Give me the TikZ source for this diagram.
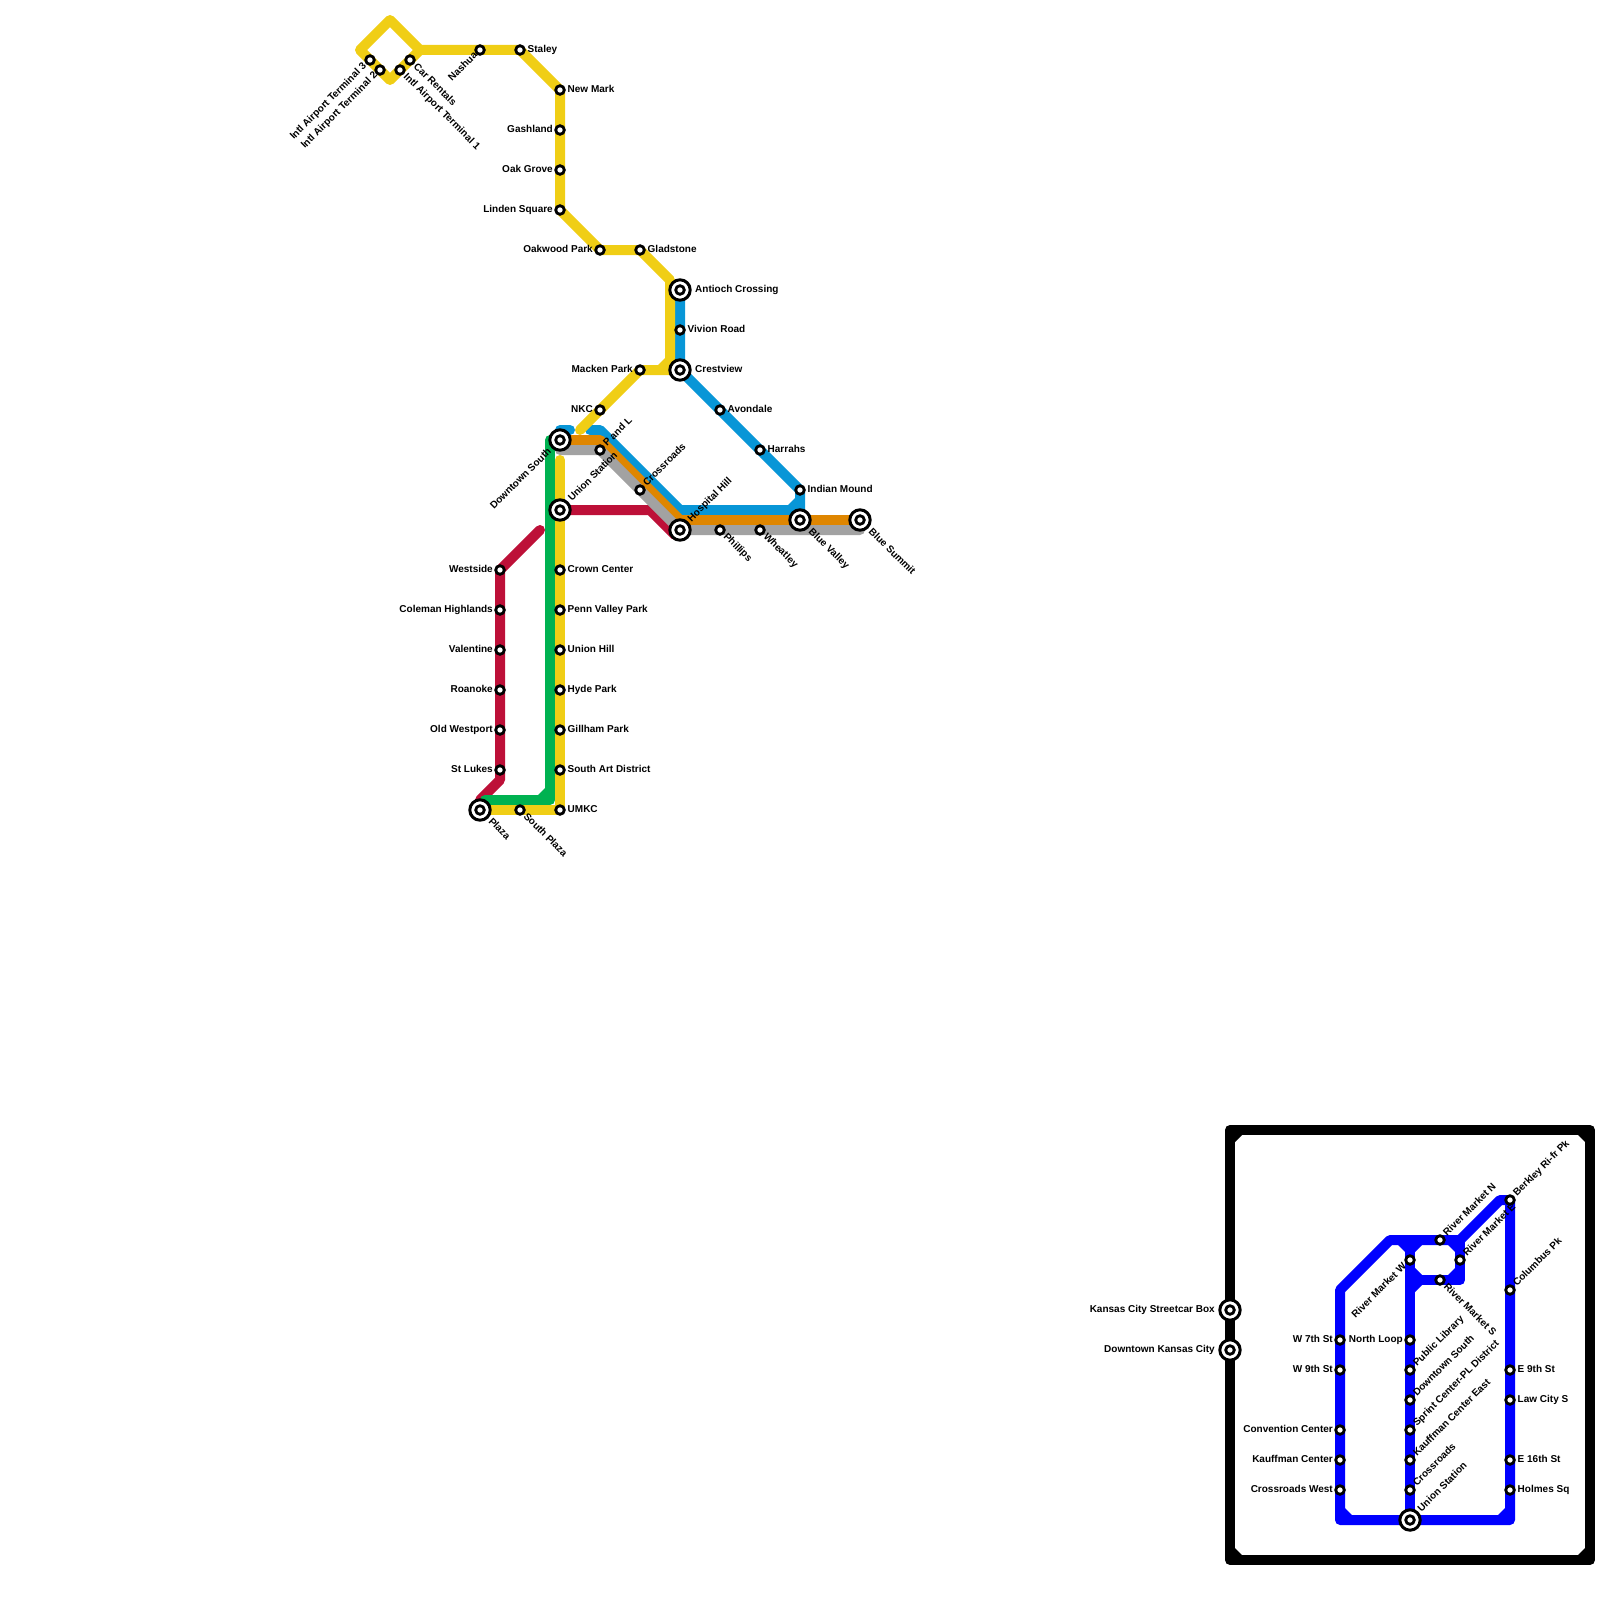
\documentclass[tikz,border=0pt]{standalone}
\usepackage{fontspec}
\setmainfont{Liberation Sans}
\pgfdeclarelayer{lines}
\pgfsetlayers{lines,main}
\definecolor{lyellow}{HTML}{F0CE15}
\definecolor{lgreen}{HTML}{00B251}
\definecolor{lblue}{HTML}{0896D7}
\definecolor{lred}{HTML}{BD1038}
\definecolor{lorange}{HTML}{DF8600}
\definecolor{lgray}{HTML}{A2A2A2}
\definecolor{lstreet}{HTML}{0000FF}
\tikzset{
  stnsmall/.style={circle,draw=black,fill=white,line width=2.8pt,minimum size=8.6pt,inner sep=0pt},
  stnbig/.style={circle,draw=black,fill=white,line width=3pt,minimum size=20.4pt,inner sep=0pt},
  lab/.style={inner sep=0pt,text height=7.4pt,text depth=2pt,font=\fontsize{10}{12}\selectfont\bfseries,text=black},
  lblR/.style={lab,xshift=#1,anchor=west},
  lblL/.style={lab,xshift=-#1,anchor=east},
  lblUR/.style={lab,xshift=#1,yshift=#1,rotate=45,anchor=west},
  lblDR/.style={lab,xshift=#1,yshift=-#1,rotate=-45,anchor=west},
  lblDL/.style={lab,xshift=-#1,yshift=-#1,rotate=45,anchor=east},
  metro/.style={line width=10pt,line cap=round,line join=round},
}
\newcommand{\smallstn}[5]{%
  \node[stnsmall] (#1) at (#2,#3) {};
  \node[#4] (#1l) at (#1.center) {#5};}
\newcommand{\bigstn}[5]{%
  \node[stnbig] (#1) at (#2,#3) {};
  \node[stnsmall] (#1i) at (#1.center) {};
  \node[#4] (#1l) at (#1.center) {#5};}
\begin{document}
\begin{tikzpicture}[x=1pt,y=-1pt]
\useasboundingbox (0,0) rectangle (1600,1600);
% main map stations
\smallstn{tthree}{370}{60}{lblDL=5pt}{Intl Airport Terminal 3}
\smallstn{ttwo}{380}{70}{lblDL=4pt}{Intl Airport Terminal 2}
\smallstn{tone}{400}{70}{lblDR=5pt}{Intl Airport Terminal 1}
\smallstn{car}{410}{60}{lblDR=5pt}{Car Rentals}
\smallstn{nashua}{480}{50}{lblDL=4pt}{Nashua}
\smallstn{staley}{520}{50}{lblR=7.5pt}{Staley}
\smallstn{newmark}{560}{90}{lblR=7.5pt}{New Mark}
\smallstn{gash}{560}{130}{lblL=7pt}{Gashland}
\smallstn{oak}{560}{170}{lblL=7pt}{Oak Grove}
\smallstn{linden}{560}{210}{lblL=7pt}{Linden Square}
\smallstn{oakwood}{600}{250}{lblL=7pt}{Oakwood Park}
\smallstn{glad}{640}{250}{lblR=7.5pt}{Gladstone}
\bigstn{antioch}{680}{290}{lblR=15pt}{Antioch Crossing}
\smallstn{vivion}{680}{330}{lblR=7.5pt}{Vivion Road}
\bigstn{crest}{680}{370}{lblR=15pt}{Crestview}
\smallstn{macken}{640}{370}{lblL=7pt}{Macken Park}
\smallstn{nkc}{600}{410}{lblL=7pt}{NKC}
\smallstn{avon}{720}{410}{lblR=7.5pt}{Avondale}
\smallstn{harr}{760}{450}{lblR=7.5pt}{Harrahs}
\smallstn{indian}{800}{490}{lblR=7.5pt}{Indian Mound}
\bigstn{bvalley}{800}{520}{lblDR=10pt}{Blue Valley}
\bigstn{bsummit}{860}{520}{lblDR=10pt}{Blue Summit}
\bigstn{hosp}{680}{530}{lblUR=9.5pt}{Hospital Hill}
\smallstn{phil}{720}{530}{lblDR=5pt}{Phillips}
\smallstn{wheat}{760}{530}{lblDR=5pt}{Wheatley}
\smallstn{pandl}{600}{450}{lblUR=5pt}{P and L}
\smallstn{cross}{640}{490}{lblUR=5pt}{Crossroads}
\bigstn{dtsouth}{560}{440}{lblDL=10pt}{Downtown South}
\bigstn{union}{560}{510}{lblUR=10pt}{Union Station}
\smallstn{crown}{560}{570}{lblR=7.5pt}{Crown Center}
\smallstn{penn}{560}{610}{lblR=7.5pt}{Penn Valley Park}
\smallstn{uhill}{560}{650}{lblR=7.5pt}{Union Hill}
\smallstn{hyde}{560}{690}{lblR=7.5pt}{Hyde Park}
\smallstn{gill}{560}{730}{lblR=7.5pt}{Gillham Park}
\smallstn{sart}{560}{770}{lblR=7.5pt}{South Art District}
\smallstn{umkc}{560}{810}{lblR=7.5pt}{UMKC}
\smallstn{splaza}{520}{810}{lblDR=5pt}{South Plaza}
\bigstn{plaza}{480}{810}{lblDR=10pt}{Plaza}
\smallstn{west}{500}{570}{lblL=7pt}{Westside}
\smallstn{coleman}{500}{610}{lblL=7pt}{Coleman Highlands}
\smallstn{valen}{500}{650}{lblL=7pt}{Valentine}
\smallstn{roan}{500}{690}{lblL=7pt}{Roanoke}
\smallstn{oldw}{500}{730}{lblL=7pt}{Old Westport}
\smallstn{stl}{500}{770}{lblL=7pt}{St Lukes}
% inset stations
\bigstn{boxa}{1230}{1310}{lblL=15pt}{Kansas City Streetcar Box}
\bigstn{boxb}{1230}{1350}{lblL=15pt}{Downtown Kansas City}
\smallstn{wseven}{1340}{1340}{lblL=7pt}{W 7th St}
\smallstn{wnine}{1340}{1370}{lblL=7pt}{W 9th St}
\smallstn{conv}{1340}{1430}{lblL=7pt}{Convention Center}
\smallstn{kauf}{1340}{1460}{lblL=7pt}{Kauffman Center}
\smallstn{crossw}{1340}{1490}{lblL=7pt}{Crossroads West}
\smallstn{rmw}{1410}{1260}{lblDL=5pt}{River Market W}
\smallstn{north}{1410}{1340}{lblL=7pt}{North Loop}
\smallstn{publ}{1410}{1370}{lblUR=5pt}{Public Library}
\smallstn{dts}{1410}{1400}{lblUR=5pt}{Downtown South}
\smallstn{sprint}{1410}{1430}{lblUR=5pt}{Sprint Center-PL District}
\smallstn{kaufe}{1410}{1460}{lblUR=5pt}{Kauffman Center East}
\smallstn{crossi}{1410}{1490}{lblUR=5pt}{Crossroads}
\bigstn{unioni}{1410}{1520}{lblUR=9.5pt}{Union Station}
\smallstn{rmn}{1440}{1240}{lblUR=5pt}{River Market N}
\smallstn{rme}{1460}{1260}{lblUR=5pt}{River Market E}
\smallstn{rms}{1440}{1280}{lblDR=5pt}{River Market S}
\smallstn{berk}{1510}{1200}{lblUR=5pt}{Berkley Ri-fr Pk}
\smallstn{colum}{1510}{1290}{lblUR=5pt}{Columbus Pk}
\smallstn{enine}{1510}{1370}{lblR=7.5pt}{E 9th St}
\smallstn{law}{1510}{1400}{lblR=7.5pt}{Law City S}
\smallstn{esix}{1510}{1460}{lblR=7.5pt}{E 16th St}
\smallstn{holmes}{1510}{1490}{lblR=7.5pt}{Holmes Sq}
% bend coordinates
\coordinate (dnr) at (420,50);
\coordinate (dnt) at (390,20);
\coordinate (dnl) at (360,50);
\coordinate (dnb) at (390,80);
\coordinate (ya) at (670,280);
\coordinate (yb) at (670,370);
\coordinate (yc) at (580,430);
\coordinate (yd) at (560,460);
\coordinate (ga) at (560,450);
\coordinate (gb) at (600,450);
\coordinate (ge) at (860,530);
\coordinate (oa) at (600,440);
\coordinate (ob) at (680,520);
\coordinate (ba) at (560,430);
\coordinate (bb) at (570,430);
\coordinate (bc) at (590,430);
\coordinate (bd) at (600,430);
\coordinate (be) at (680,510);
\coordinate (bf) at (800,510);
\coordinate (gra) at (550,440);
\coordinate (grb) at (550,800);
\coordinate (grc) at (485,800);
\coordinate (ra) at (540,530);
\coordinate (rb) at (500,780);
\coordinate (rc) at (480,800);
\coordinate (rd) at (650,510);
\coordinate (re) at (675,535);
\coordinate (fa) at (1230,1130);
\coordinate (fb) at (1590,1130);
\coordinate (fc) at (1590,1560);
\coordinate (fd) at (1230,1560);
\coordinate (sa) at (1340,1290);
\coordinate (sb) at (1390,1240);
\coordinate (sc) at (1460,1240);
\coordinate (sd) at (1500,1200);
\coordinate (se) at (1510,1520);
\coordinate (sf) at (1340,1520);
\coordinate (sg) at (1410,1240);
\coordinate (sh) at (1460,1280);
\coordinate (si) at (1410,1280);
\begin{pgfonlayer}{lines}
% red
\draw[metro,lred] (ra) -- (west.center) -- (rb) -- (rc);
\draw[metro,lred] (union.center) -- (rd) -- (re);
% blue
\draw[metro,lblue] (ba) -- (bb);
\draw[metro,lblue] (bc) -- (bd) -- (be) -- (bf) -- (indian.center) -- (crest.center) -- (antioch.center);
\fill[lblue] (788,505) -- (795,505) -- (795,498) -- cycle;
% orange
\draw[metro,lorange] (dtsouth.center) -- (oa) -- (ob) -- (bsummit.center);
% gray
\draw[metro,lgray] (ga) -- (gb) -- (hosp.center) -- (ge);
% yellow
\draw[metro,lyellow] (dnr) -- (dnt) -- (dnl) -- (dnb) -- (dnr) -- (staley.center) -- (newmark.center) -- (linden.center) -- (oakwood.center) -- (glad.center) -- (ya) -- (yb) -- (macken.center) -- (yc);
\draw[metro,lyellow] (yb) -- (crest.center);
\fill[lyellow] (658,365) -- (665,365) -- (665,358) -- cycle;
\draw[metro,lyellow] (yd) -- (umkc.center) -- (plaza.center);
% green
\draw[metro,lgreen] (gra) -- (grb) -- (grc);
\fill[lgreen] (538,795) -- (545,795) -- (545,788) -- cycle;
% inset frame
\draw[metro,black] (fa) -- (fb) -- (fc) -- (fd) -- cycle;
\fill[black] (1235,1135) -- (1242,1135) -- (1235,1142) -- cycle;
\fill[black] (1585,1135) -- (1578,1135) -- (1585,1142) -- cycle;
\fill[black] (1585,1555) -- (1578,1555) -- (1585,1548) -- cycle;
\fill[black] (1235,1555) -- (1242,1555) -- (1235,1548) -- cycle;
% inset line
\draw[metro,lstreet] (sa) -- (sb) -- (sc) -- (sd) -- (berk.center) -- (se) -- (sf) -- cycle;
\draw[metro,lstreet] (sg) -- (unioni.center);
\draw[metro,lstreet] (sc) -- (sh) -- (si);
\fill[lstreet] (1398,1245) -- (1405,1245) -- (1405,1252) -- cycle;
\fill[lstreet] (1422,1245) -- (1415,1245) -- (1415,1252) -- cycle;
\fill[lstreet] (1448,1245) -- (1455,1245) -- (1455,1252) -- cycle;
\fill[lstreet] (1448,1275) -- (1455,1275) -- (1455,1268) -- cycle;
\fill[lstreet] (1422,1275) -- (1415,1275) -- (1415,1268) -- cycle;
\fill[lstreet] (1422,1285) -- (1415,1285) -- (1415,1292) -- cycle;
\fill[lstreet] (1345,1508) -- (1345,1515) -- (1352,1515) -- cycle;
\fill[lstreet] (1505,1508) -- (1505,1515) -- (1498,1515) -- cycle;
\end{pgfonlayer}
\end{tikzpicture}
\end{document}
